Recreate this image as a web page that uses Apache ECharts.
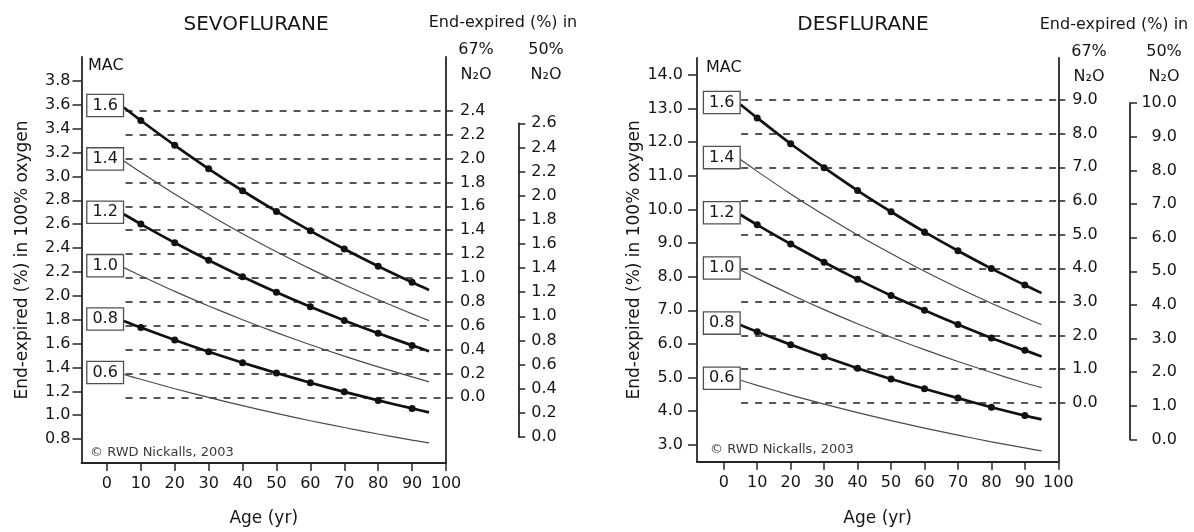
<!DOCTYPE html>
<html>
<head>
<meta charset="utf-8">
<script src="https://cdn.jsdelivr.net/npm/echarts@6/dist/echarts.min.js"></script>
<style>
  html, body { margin: 0; padding: 0; background: #ffffff; }
  #chart { width: 1194px; height: 532px; }
</style>
</head>
<body>
<div id="chart"></div>
<script>
// Age-related iso-MAC charts (end-expired concentration vs age)
const ages = [5, 10, 20, 30, 40, 50, 60, 70, 80, 90, 95];
const ageTicks = [0, 10, 20, 30, 40, 50, 60, 70, 80, 90, 100];
const macLevels = ['1.6', '1.4', '1.2', '1.0', '0.8', '0.6'];
const thickLevels = ['1.6', '1.2', '0.8'];

// Sevoflurane, end-expired % in 100% oxygen
const sevoMac16 = [3.577, 3.468, 3.260, 3.064, 2.880, 2.707, 2.544, 2.392, 2.248, 2.113, 2.049];
const sevoMac14 = [3.130, 3.035, 2.852, 2.681, 2.520, 2.369, 2.226, 2.093, 1.967, 1.849, 1.792];
const sevoMac12 = [2.683, 2.601, 2.445, 2.298, 2.160, 2.030, 1.908, 1.794, 1.686, 1.585, 1.536];
const sevoMac10 = [2.236, 2.168, 2.037, 1.915, 1.800, 1.692, 1.590, 1.495, 1.405, 1.321, 1.280];
const sevoMac08 = [1.789, 1.734, 1.630, 1.532, 1.440, 1.354, 1.272, 1.196, 1.124, 1.057, 1.024];
const sevoMac06 = [1.341, 1.301, 1.222, 1.149, 1.080, 1.015, 0.954, 0.897, 0.843, 0.792, 0.768];
const sevoO2Ticks = [0.8, 1.0, 1.2, 1.4, 1.6, 1.8, 2.0, 2.2, 2.4, 2.6, 2.8, 3.0, 3.2, 3.4, 3.6, 3.8];
const sevoN2O67Ticks = [0.0, 0.2, 0.4, 0.6, 0.8, 1.0, 1.2, 1.4, 1.6, 1.8, 2.0, 2.2, 2.4];
const sevoN2O50Ticks = [0.0, 0.2, 0.4, 0.6, 0.8, 1.0, 1.2, 1.4, 1.6, 1.8, 2.0, 2.2, 2.4, 2.6];
const sevoOffset67 = 1.15;   // O2 scale value of 0.0 on the 67% N2O scale
const sevoOffset50 = 0.85;   // O2 scale value of 0.0 on the 50% N2O scale

// Desflurane, end-expired % in 100% oxygen
const desMac16 = [13.12, 12.72, 11.95, 11.24, 10.56, 9.93, 9.33, 8.77, 8.24, 7.75, 7.51];
const desMac14 = [11.48, 11.13, 10.46, 9.83, 9.24, 8.69, 8.16, 7.67, 7.21, 6.78, 6.57];
const desMac12 = [9.84, 9.54, 8.97, 8.43, 7.92, 7.44, 7.00, 6.58, 6.18, 5.81, 5.63];
const desMac10 = [8.20, 7.95, 7.47, 7.02, 6.60, 6.20, 5.83, 5.48, 5.15, 4.84, 4.70];
const desMac08 = [6.56, 6.36, 5.98, 5.62, 5.28, 4.96, 4.67, 4.39, 4.12, 3.87, 3.76];
const desMac06 = [4.92, 4.77, 4.48, 4.21, 3.96, 3.72, 3.50, 3.29, 3.09, 2.91, 2.82];
const desO2Ticks = [3, 4, 5, 6, 7, 8, 9, 10, 11, 12, 13, 14];
const desN2O67Ticks = [0, 1, 2, 3, 4, 5, 6, 7, 8, 9];
const desN2O50Ticks = [0, 1, 2, 3, 4, 5, 6, 7, 8, 9, 10];
const desOffset67 = 4.25;
const desOffset50 = 3.16;

const FONT = '"DejaVu Sans", "Liberation Sans", sans-serif';
const INK = '#161616';
const AXIS = '#262626';

const panels = [
  {
    title: 'SEVOFLURANE',
    curves: [sevoMac16, sevoMac14, sevoMac12, sevoMac10, sevoMac08, sevoMac06],
    o2Ticks: sevoO2Ticks, n67Ticks: sevoN2O67Ticks, n50Ticks: sevoN2O50Ticks,
    off67: sevoOffset67, off50: sevoOffset50,
    layout: {
      left: 81.5, top: 57, width: 364.5, height: 410,
      xMin: -7.5, xMax: 100, yMin: 0.6, yMax: 4.0,
      axis50X: 518.3, dashStart: 5.5, leftMargin: 11, yNameGap: 50, xNameGap: 47,
      titleX: 256, titleY: 25, headX: 503, headY: 22.5,
      col67X: 476, col50X: 546, colY1: 50, colY2: 75,
      macX: 88, macY: 66, copyX: 90, copyY: 453,
      r67Margin: 14, r50Margin: 13, r50Align: 'left'
    }
  },
  {
    title: 'DESFLURANE',
    curves: [desMac16, desMac14, desMac12, desMac10, desMac08, desMac06],
    o2Ticks: desO2Ticks, n67Ticks: desN2O67Ticks, n50Ticks: desN2O50Ticks,
    off67: desOffset67, off50: desOffset50,
    layout: {
      left: 697, top: 58, width: 361.3, height: 403.7,
      xMin: -8, xMax: 100, yMin: 2.5, yMax: 14.5,
      axis50X: 1130, dashStart: 5.2, leftMargin: 14, yNameGap: 54, xNameGap: 48,
      titleX: 863, titleY: 25, headX: 1114, headY: 24.5,
      col67X: 1089, col50X: 1164, colY1: 51.5, colY2: 76.5,
      macX: 706, macY: 68, copyX: 710, copyY: 450,
      r67Margin: 14, r50Margin: 47, r50Align: 'right'
    }
  }
];

const fmt1 = v => Number(v).toFixed(1);

const grids = [], xAxes = [], yAxes = [], series = [], graphics = [];

panels.forEach(p => {
  const L = p.layout;
  const yPix = v => L.top + (L.yMax - v) / (L.yMax - L.yMin) * L.height;

  // main plotting grid
  const gMain = grids.length;
  grids.push({ left: L.left, top: L.top, width: L.width, height: L.height, show: false, containLabel: false });
  // narrow grid holding the detached 50% N2O scale
  const g50 = grids.length;
  const t50 = yPix(p.n50Ticks[p.n50Ticks.length - 1] + p.off50);
  const b50 = yPix(p.n50Ticks[0] + p.off50);
  grids.push({ left: L.axis50X - 10, top: t50, width: 10, height: b50 - t50, show: false });

  const xMain = xAxes.length;
  xAxes.push({
    gridIndex: gMain, type: 'value', min: L.xMin, max: L.xMax,
    name: 'Age (yr)', nameLocation: 'middle', nameGap: L.xNameGap,
    nameTextStyle: { fontFamily: FONT, fontSize: 17, color: INK },
    axisLine: { show: true, onZero: false, lineStyle: { color: AXIS, width: 1.8 } },
    axisTick: { show: true, length: 8, customValues: ageTicks, lineStyle: { color: AXIS, width: 1.5 } },
    axisLabel: { customValues: ageTicks, margin: 13, fontFamily: FONT, fontSize: 16, color: INK },
    splitLine: { show: false }
  });
  xAxes.push({ gridIndex: g50, type: 'value', show: false, min: 0, max: 1 });

  const yO2 = yAxes.length;
  yAxes.push({
    gridIndex: gMain, type: 'value', position: 'left', min: L.yMin, max: L.yMax,
    name: 'End-expired (%) in 100% oxygen', nameLocation: 'middle', nameGap: L.yNameGap,
    nameTextStyle: { fontFamily: FONT, fontSize: 17, color: INK },
    axisLine: { show: true, onZero: false, lineStyle: { color: AXIS, width: 1.8 } },
    axisTick: { show: true, length: 9, customValues: p.o2Ticks, lineStyle: { color: AXIS, width: 1.5 } },
    axisLabel: { customValues: p.o2Ticks, formatter: fmt1, margin: L.leftMargin, fontFamily: FONT, fontSize: 16, color: INK },
    splitLine: { show: false }
  });
  const y67 = yAxes.length;
  yAxes.push({
    gridIndex: gMain, type: 'value', position: 'right',
    min: L.yMin - p.off67, max: L.yMax - p.off67,
    axisLine: { show: true, onZero: false, lineStyle: { color: AXIS, width: 1.8 } },
    axisTick: { show: true, length: 7, customValues: p.n67Ticks, lineStyle: { color: AXIS, width: 1.5 } },
    axisLabel: { customValues: p.n67Ticks, formatter: fmt1, margin: L.r67Margin, fontFamily: FONT, fontSize: 16, color: INK },
    splitLine: { show: false }
  });
  yAxes.push({
    gridIndex: g50, type: 'value', position: 'right',
    min: p.n50Ticks[0], max: p.n50Ticks[p.n50Ticks.length - 1],
    axisLine: { show: true, onZero: false, lineStyle: { color: AXIS, width: 1.8 } },
    axisTick: { show: true, length: 7, customValues: p.n50Ticks, lineStyle: { color: AXIS, width: 1.5 } },
    axisLabel: { customValues: p.n50Ticks, formatter: fmt1, margin: L.r50Margin, align: L.r50Align, fontFamily: FONT, fontSize: 16, color: INK },
    splitLine: { show: false }
  });

  // dashed guide lines at each 67% N2O tick, plotted on that scale
  series.push({
    type: 'line', xAxisIndex: xMain, yAxisIndex: y67, data: [], silent: true,
    markLine: {
      silent: true, symbol: 'none', animation: false,
      label: { show: false },
      lineStyle: { type: [7, 7], color: '#3a3a3a', width: 1.7 },
      data: p.n67Ticks.map(v => [{ coord: [L.dashStart, v] }, { coord: [L.xMax, v] }])
    }
  });

  // iso-MAC curves
  p.curves.forEach((vals, ci) => {
    const level = macLevels[ci];
    const thick = thickLevels.indexOf(level) >= 0;
    series.push({
      type: 'line', xAxisIndex: xMain, yAxisIndex: yO2, z: 5,
      smooth: 0.25,
      symbol: 'circle',
      showSymbol: true,
      symbolSize: val => (thick && val[0] % 10 === 0) ? 7 : 0,
      itemStyle: { color: thick ? '#111111' : '#444444' },
      lineStyle: { color: thick ? '#111111' : '#4a4a4a', width: thick ? 2.7 : 1.2 },
      data: ages.map((a, i) => {
        const item = { value: [a, vals[i]] };
        if (i === 0) {
          item.label = {
            show: true, position: 'left', distance: 1, offset: [0, -2],
            formatter: level,
            fontFamily: FONT, fontSize: 16, color: INK,
            backgroundColor: '#ffffff', borderColor: '#505050', borderWidth: 1.3,
            padding: [3, 5, 2, 5]
          };
        }
        return item;
      })
    });
  });

  // panel texts
  graphics.push(
    { type: 'text', x: L.titleX, y: L.titleY, style: { text: p.title, fontFamily: FONT, fontSize: 20, fill: INK, align: 'center', verticalAlign: 'middle' } },
    { type: 'text', x: L.headX, y: L.headY, style: { text: 'End-expired (%) in', fontFamily: FONT, fontSize: 16, fill: INK, align: 'center', verticalAlign: 'middle' } },
    { type: 'text', x: L.col67X, y: L.colY1, style: { text: '67%', fontFamily: FONT, fontSize: 16, fill: INK, align: 'center', verticalAlign: 'middle' } },
    { type: 'text', x: L.col50X, y: L.colY1, style: { text: '50%', fontFamily: FONT, fontSize: 16, fill: INK, align: 'center', verticalAlign: 'middle' } },
    { type: 'text', x: L.col67X, y: L.colY2, style: { text: 'N\u2082O', fontFamily: FONT, fontSize: 16, fill: INK, align: 'center', verticalAlign: 'middle' } },
    { type: 'text', x: L.col50X, y: L.colY2, style: { text: 'N\u2082O', fontFamily: FONT, fontSize: 16, fill: INK, align: 'center', verticalAlign: 'middle' } },
    { type: 'text', x: L.macX, y: L.macY, style: { text: 'MAC', fontFamily: FONT, fontSize: 16, fill: INK, align: 'left', verticalAlign: 'middle' } },
    { type: 'text', x: L.copyX, y: L.copyY, style: { text: '\u00a9 RWD Nickalls, 2003', fontFamily: FONT, fontSize: 13, fill: '#3a3a3a', align: 'left', verticalAlign: 'middle' } }
  );
});

const chart = echarts.init(document.getElementById('chart'), null, { renderer: 'canvas' });
chart.setOption({
  animation: false,
  backgroundColor: '#ffffff',
  textStyle: { fontFamily: FONT },
  grid: grids,
  xAxis: xAxes,
  yAxis: yAxes,
  series: series,
  graphic: graphics
});
</script>
</body>
</html>
